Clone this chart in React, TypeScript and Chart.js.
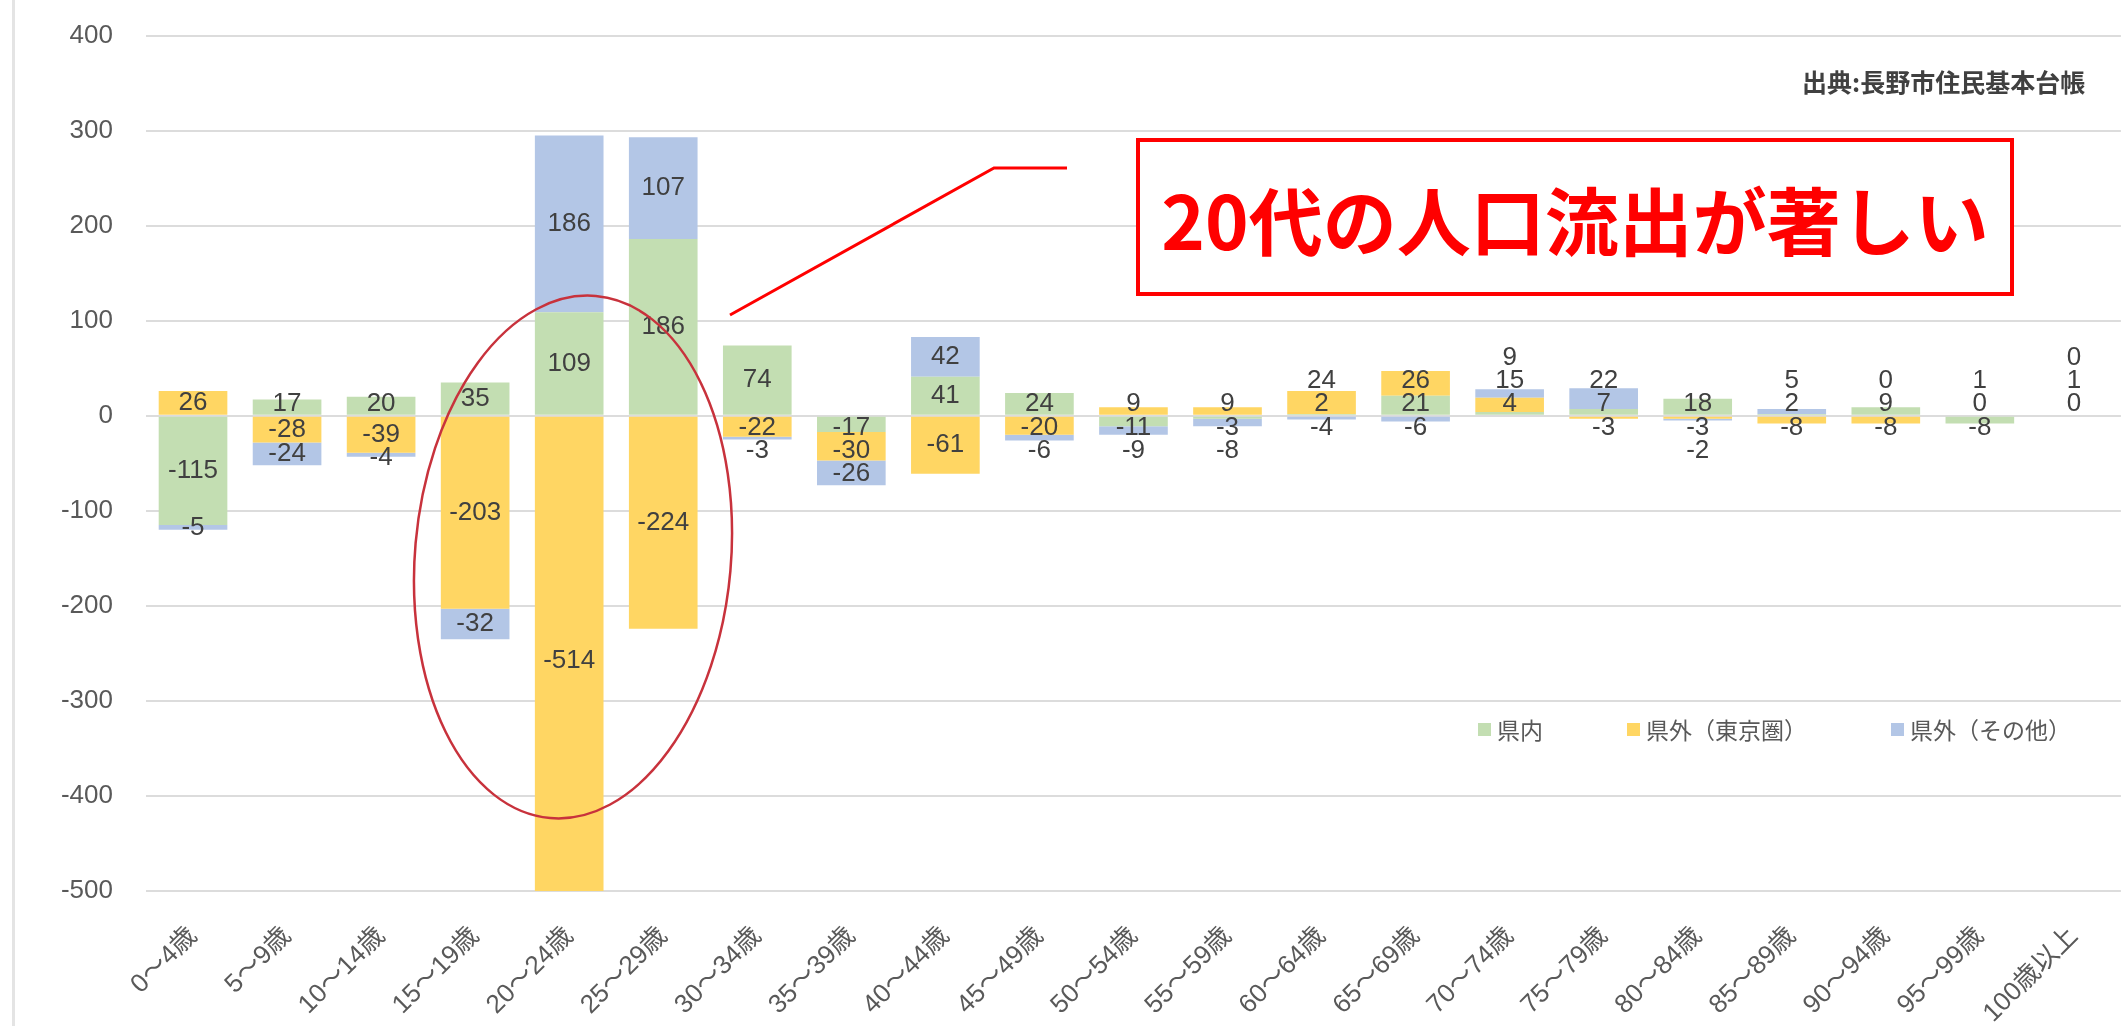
import React, { useEffect, useRef } from "react";
import { Chart, registerables } from "chart.js";

Chart.register(...registerables);

const categories = [
  "0～4歳", "5～9歳", "10～14歳", "15～19歳", "20～24歳", "25～29歳", "30～34歳",
  "35～39歳", "40～44歳", "45～49歳", "50～54歳", "55～59歳", "60～64歳", "65～69歳",
  "70～74歳", "75～79歳", "80～84歳", "85～89歳", "90～94歳", "95～99歳", "100歳以上",
];
const seriesNames = ["県内", "県外（東京圏）", "県外（その他）"];
const inPrefecture = [-115, 17, 20, 35, 109, 186, 74, -17, 41, 24, -11, -3, 2, 21, 4, 7, 18, 2, 9, -8, 0];
const outTokyo = [26, -28, -39, -203, -514, -224, -22, -30, -61, -20, 9, 9, 24, 26, 15, -3, -3, -8, -8, 0, 1];
const outOther = [-5, -24, -4, -32, 186, 107, -3, -26, 42, -6, -9, -8, -4, -6, 9, 22, -2, 5, 0, 1, 0];
const yMin = -500;
const yMax = 400;
const yStep = 100;
const sourceText = "出典:長野市住民基本台帳";
const calloutText = "20代の人口流出が著しい";

const colors = ["#c3deb2", "#ffd663", "#b3c6e6"];

const CANVAS_SHIFT = 13;

const labelPlugin = {
  id: "stackLabels",
  afterDatasetsDraw(chart: any) {
    const ctx = chart.ctx;
    const yScale = chart.scales.y;
    const zeroY = yScale.getPixelForValue(0);
    const gap = 23;
    ctx.save();
    ctx.font = "26px 'Liberation Sans', Arial, sans-serif";
    ctx.fillStyle = "#404040";
    ctx.textAlign = "center";
    ctx.textBaseline = "middle";
    const n = chart.data.labels.length;
    for (let i = 0; i < n; i++) {
      let prevPos = zeroY + 11;
      let prevNeg = zeroY - 11;
      chart.data.datasets.forEach((ds: any, di: number) => {
        const meta = chart.getDatasetMeta(di);
        const el: any = meta.data[i];
        if (!el) return;
        const v = ds.data[i];
        const center = (el.y + el.base) / 2;
        let y: number;
        if (v >= 0) {
          y = Math.min(center, prevPos - gap);
          prevPos = y;
        } else {
          y = Math.max(center, prevNeg + gap);
          prevNeg = y;
        }
        ctx.fillText(String(v), el.x, y);
      });
    }
    ctx.restore();
  },
};

function ChartCanvas() {
  const ref = useRef<HTMLCanvasElement | null>(null);
  useEffect(() => {
    if (!ref.current) return;
    const series = [inPrefecture, outTokyo, outOther];
    const chart = new Chart(ref.current, {
      type: "bar",
      data: {
        labels: categories,
        datasets: series.map((d, i) => ({
          label: seriesNames[i],
          data: d,
          backgroundColor: colors[i],
          borderWidth: 0,
          stack: "s",
          barPercentage: 0.73,
          categoryPercentage: 1,
        })),
      },
      options: {
        responsive: false,
        animation: false,
        layout: { padding: { top: 10, right: 2, left: 0, bottom: 0 } },
        plugins: { legend: { display: false }, tooltip: { enabled: false } },
        scales: {
          x: {
            stacked: true,
            grid: { display: false, drawTicks: false },
            border: { display: false },
            ticks: {
              autoSkip: false,
              maxRotation: 45,
              minRotation: 45,
              padding: 30,
              color: "#595959",
              font: { size: 26, family: "'Liberation Sans', 'Noto Sans CJK JP', sans-serif" },
            },
            afterFit: (s: any) => {
              s.height = 135;
            },
          },
          y: {
            stacked: true,
            min: yMin,
            max: yMax,
            grid: { color: "#dcdcdc", lineWidth: 2, drawTicks: false },
            border: { display: false },
            ticks: {
              stepSize: yStep,
              padding: 33,
              color: "#595959",
              font: { size: 26, family: "'Liberation Sans', Arial, sans-serif" },
            },
            afterFit: (s: any) => {
              s.width = 146;
            },
          },
        },
      },
      plugins: [labelPlugin],
    });
    return () => chart.destroy();
  }, []);
  return (
    <canvas
      ref={ref}
      width={2126}
      height={1026 + CANVAS_SHIFT}
      style={{ position: "absolute", left: 0, top: -CANVAS_SHIFT }}
    />
  );
}

export default function App() {
  const legendItems = [
    { x: 1478, text: seriesNames[0], color: colors[0] },
    { x: 1627, text: seriesNames[1], color: colors[1] },
    { x: 1891, text: seriesNames[2], color: colors[2] },
  ];
  return (
    <div style={{ position: "fixed", left: 0, top: 0, width: 2126, height: 1026, background: "#fff", overflow: "hidden" }}>
      <div style={{ position: "absolute", left: 12, top: 0, width: 3, height: 1026, background: "#e4e4e4" }} />
      <ChartCanvas />
      <div
        style={{
          position: "absolute", left: 1802, top: 66, fontSize: 25, fontWeight: 700, color: "#404040",
          fontFamily: "'Noto Sans CJK JP', sans-serif", whiteSpace: "nowrap", lineHeight: "30px",
        }}
      >
        {sourceText}
      </div>
      {legendItems.map((it, i) => (
        <div key={i} style={{ position: "absolute", left: it.x, top: 713, display: "flex", alignItems: "center", whiteSpace: "nowrap" }}>
          <span style={{ display: "inline-block", width: 13, height: 13, background: it.color, marginRight: 6 }} />
          <span style={{ fontSize: 23, color: "#595959", fontFamily: "'Noto Sans CJK JP', sans-serif", lineHeight: "32px" }}>{it.text}</span>
        </div>
      ))}
      <div
        style={{
          position: "absolute", left: 1136, top: 138, width: 878, height: 158, boxSizing: "border-box",
          border: "4px solid #ff0000", background: "#fff", display: "flex", alignItems: "center", justifyContent: "center",
          color: "#ff0000", fontSize: 74, fontWeight: 700, fontFamily: "'Noto Sans CJK JP', sans-serif", whiteSpace: "nowrap",
        }}
      >
        {calloutText}
      </div>
      <svg width={2126} height={1026} style={{ position: "absolute", left: 0, top: 0, pointerEvents: "none" }}>
        <polyline points="730,315 994,168 1067,168" fill="none" stroke="#ff0000" strokeWidth={3} />
        <ellipse cx={573} cy={557} rx={158} ry={262} transform="rotate(5 573 557)" fill="none" stroke="#c8323c" strokeWidth={2.5} />
      </svg>
    </div>
  );
}
